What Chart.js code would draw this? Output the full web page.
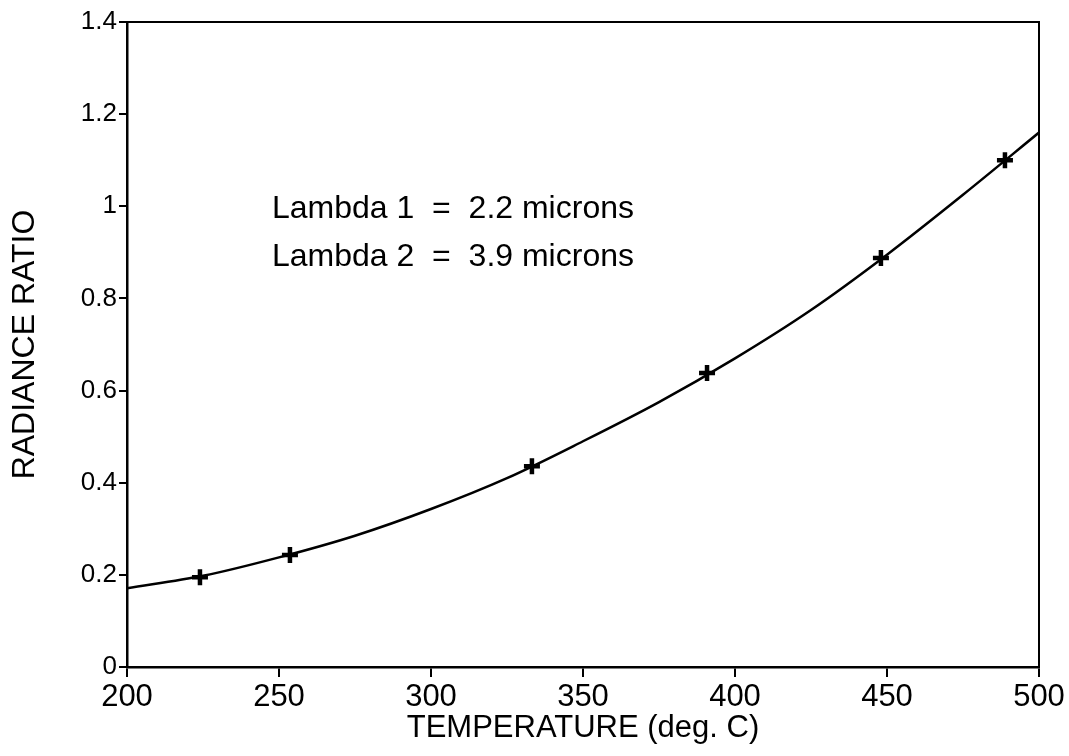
<!DOCTYPE html>
<html>
<head>
<meta charset="utf-8">
<title>Radiance ratio vs temperature</title>
<script src="https://cdn.jsdelivr.net/npm/chart.js@4.4.1/dist/chart.umd.min.js"></script>
<style>
  html, body { margin: 0; padding: 0; background: #fff; }
  #wrap { width: 1069px; height: 756px; }
</style>
</head>
<body>
<div id="wrap"><canvas id="chart" width="1069" height="756"></canvas></div>
<script>
var curvaTemp = [200, 225, 250, 275, 300, 325, 350, 375, 400, 425, 450, 475, 500];
var curvaRatio = [0.171, 0.198, 0.238, 0.285, 0.343, 0.41, 0.49, 0.575, 0.67, 0.775, 0.895, 1.025, 1.16];
var puntosTemp = [224, 253.6, 333.2, 390.8, 448, 488.8];
var puntosRatio = [0.195, 0.243, 0.436, 0.638, 0.888, 1.10];
var xTicks = [200, 250, 300, 350, 400, 450, 500];
var yTicks = [0, 0.2, 0.4, 0.6, 0.8, 1, 1.2, 1.4];
var notas = ['Lambda 1  =  2.2 microns', 'Lambda 2  =  3.9 microns'];

var FUENTE = '"Liberation Sans", Arial, Helvetica, sans-serif';

function pares(xs, ys) { return xs.map(function (x, i) { return { x: x, y: ys[i] }; }); }

// marco superior/derecho y texto de la leyenda
var marco = {
  id: 'marco',
  afterDraw: function (chart) {
    var ctx = chart.ctx, a = chart.chartArea;
    ctx.save();
    ctx.strokeStyle = '#000';
    ctx.lineWidth = 2;
    ctx.beginPath();
    ctx.moveTo(a.left, a.top); ctx.lineTo(a.right, a.top); ctx.lineTo(a.right, a.bottom);
    ctx.stroke();
    ctx.fillStyle = '#000';
    ctx.font = '32px ' + FUENTE;
    ctx.textBaseline = 'alphabetic';
    ctx.textAlign = 'left';
    notas.forEach(function (t, i) { ctx.fillText(t, a.left + 145, a.top + 196 + i * 48); });
    ctx.restore();
  }
};

new Chart(document.getElementById('chart').getContext('2d'), {
  type: 'scatter',
  data: {
    datasets: [
      { data: pares(curvaTemp, curvaRatio), showLine: true, borderColor: '#000', borderWidth: 2.5, pointRadius: 0, cubicInterpolationMode: 'monotone', fill: false },
      { data: pares(puntosTemp, puntosRatio), showLine: false, pointStyle: 'cross', pointRadius: 8, borderColor: '#000', borderWidth: 4.5, backgroundColor: '#000' }
    ]
  },
  options: {
    responsive: false, animation: false, devicePixelRatio: 1,
    layout: { padding: { top: 22, right: 30, left: 0, bottom: 0 } },
    plugins: { legend: { display: false }, tooltip: { enabled: false } },
    scales: {
      x: {
        type: 'linear', min: 200, max: 500,
        afterFit: function (s) { s.height = 89; },
        afterBuildTicks: function (s) { s.ticks = xTicks.map(function (v) { return { value: v }; }); },
        grid: { drawOnChartArea: false, drawTicks: true, tickLength: 10, color: '#000', lineWidth: 2 },
        border: { display: true, color: '#000', width: 2.5 },
        ticks: { color: '#000', padding: 2, maxRotation: 0, font: { family: FUENTE, size: 31 }, callback: function (v) { return String(v); } },
        title: { display: true, text: 'TEMPERATURE (deg. C)', color: '#000', font: { family: FUENTE, size: 31 }, padding: { top: 0, bottom: 9 } }
      },
      y: {
        type: 'linear', min: 0, max: 1.4,
        afterFit: function (s) { s.width = 127; },
        afterBuildTicks: function (s) { s.ticks = yTicks.map(function (v) { return { value: v }; }); },
        grid: { drawOnChartArea: false, drawTicks: true, tickLength: 8, color: '#000', lineWidth: 2 },
        border: { display: true, color: '#000', width: 2.5 },
        ticks: { color: '#000', padding: 2, font: { family: FUENTE, size: 26 }, callback: function (v) { return String(v); } },
        title: { display: true, text: 'RADIANCE RATIO', color: '#000', font: { family: FUENTE, size: 32 }, padding: { top: 6, bottom: 0 } }
      }
    }
  },
  plugins: [marco]
});
</script>
</body>
</html>
